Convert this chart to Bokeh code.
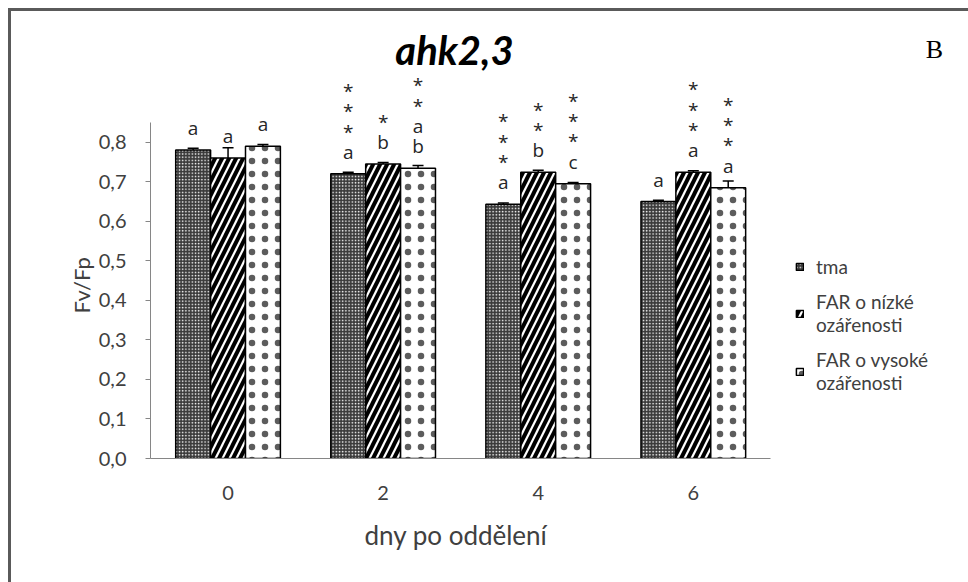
from bokeh.plotting import figure
from bokeh.models import (Range1d, ColumnDataSource, Whisker, TeeHead, Title,
                          Legend, LegendItem, Label, FixedTicker, CustomJSTickFormatter)
from bokeh.core.properties import value
from bokeh.embed import file_html
from bokeh.resources import INLINE

# ---------------- data ----------------
days = ["0", "2", "4", "6"]
tma = [0.780, 0.720, 0.643, 0.650]
tma_err = [0.005, 0.004, 0.003, 0.003]
far_low = [0.760, 0.745, 0.724, 0.724]
far_low_err = [0.026, 0.004, 0.005, 0.004]
far_high = [0.790, 0.734, 0.695, 0.685]
far_high_err = [0.004, 0.007, 0.003, 0.017]
tma_labels = ["a", "*\n*\n*\na", "*\n*\n*\na", "a"]
far_low_labels = ["a", "*\nb", "*\n*\nb", "*\n*\n*\na"]
far_high_labels = ["a", "*\n*\na\nb", "*\n*\n*\nc", "*\n*\n*\na"]
series_names = ["tma", "FAR o nízké\nozářenosti", "FAR o vysoké\nozářenosti"]
y_ticks = [0.0, 0.1, 0.2, 0.3, 0.4, 0.5, 0.6, 0.7, 0.8]
title_text = "ahk2,3"
panel_letter = "B"
x_label = "dny po oddělení"
y_label = "Fv/Fp"

# category positions on a numeric scale (one unit per category)
x_pos = [i + 0.5 for i in range(len(days))]
bw = 0.225

def shift(off):
    return [x + off for x in x_pos]

def add(a, b):
    return [u + v for u, v in zip(a, b)]

FONT = "Lato"
W, H = 962, 575
p = figure(width=W, height=H, x_range=Range1d(0, 5.197), y_range=Range1d(0, 1.1028),
           output_backend="svg", toolbar_location=None,
           min_border_left=139, min_border_right=20, min_border_top=11, min_border_bottom=131)
p.styles = {"margin-left": "8px", "margin-top": "8px", "box-sizing": "content-box",
            "overflow": "hidden",
            "border-left": "3px solid #5a5a5a", "border-top": "3px solid #5a5a5a"}
p.outline_line_color = None
p.grid.visible = False
p.background_fill_color = "white"
p.border_fill_color = "white"

specs = [
    (tma, tma_err, tma_labels, -bw,
     dict(fill_color="#3a3a3a", hatch_pattern="dot", hatch_scale=3.2, hatch_weight=0.9, hatch_color="white")),
    (far_low, far_low_err, far_low_labels, 0.0,
     dict(fill_color="white", hatch_pattern="right_diagonal_line", hatch_scale=14, hatch_weight=4, hatch_color="black")),
    (far_high, far_high_err, far_high_labels, bw,
     dict(fill_color="white", hatch_pattern="dot", hatch_scale=13, hatch_weight=0.1,
          hatch_color="#333333", hatch_alpha=0.8)),
]
items = []
for (vals, errs, labs, off, style), name in zip(specs, series_names):
    src = ColumnDataSource(dict(x=shift(off), top=vals, hi=add(vals, errs), lab=labs))
    r = p.vbar(x="x", top="top", width=bw, source=src,
               line_color="black", line_width=1.5, **style)
    items.append(LegendItem(label=name, renderers=[r]))
    p.add_layout(Whisker(source=src, base="x", upper="hi", lower="top",
                         line_color="black", line_width=1.5,
                         upper_head=TeeHead(size=11, line_color="black", line_width=1.5),
                         lower_head=None))
    p.text(x="x", y="top", text="lab", source=src,
           text_font=value("Open Sans"), text_font_size="19px", text_color="#262626",
           text_align="center", text_baseline="bottom", text_line_height=0.78, y_offset=-9)

# axes
p.yaxis.ticker = FixedTicker(ticks=y_ticks)
p.yaxis.formatter = CustomJSTickFormatter(code="return tick.toFixed(1).replace('.', ',');")
p.yaxis.bounds = (0, 0.85)
p.yaxis.axis_line_color = "#868686"
p.yaxis.major_tick_line_color = "#868686"
p.yaxis.major_tick_out = 5
p.yaxis.major_tick_in = 0
p.yaxis.minor_tick_line_color = None
p.yaxis.major_label_standoff = 19
p.yaxis.major_label_text_font = FONT
p.yaxis.major_label_text_font_size = "20px"
p.yaxis.major_label_text_color = "#404040"

p.xaxis.ticker = FixedTicker(ticks=x_pos)
p.xaxis.major_label_overrides = {x: d for x, d in zip(x_pos, days)}
p.xaxis.bounds = (0, len(days))
p.xaxis.axis_line_color = "#868686"
p.xaxis.major_tick_line_color = None
p.xaxis.minor_tick_line_color = None
p.xaxis.major_tick_out = 0
p.xaxis.major_tick_in = 0
p.xaxis.major_label_standoff = 27
p.xaxis.major_label_text_font = FONT
p.xaxis.major_label_text_font_size = "20px"
p.xaxis.major_label_text_color = "#404040"

# axis titles, centred on the drawn axis extent (not the whole frame)
p.add_layout(Title(text=x_label, align="left", offset=214, standoff=28,
                   text_font=FONT, text_font_style="normal", text_font_size="26px",
                   text_color="#404040"), "below")
p.add_layout(Title(text=y_label, align="left", offset=145, standoff=1,
                   text_font=FONT, text_font_style="normal", text_font_size="22px",
                   text_color="#404040"), "left")

legend = Legend(items=items, location=(645, 64), padding=0, spacing=12,
                glyph_width=9, glyph_height=9, label_standoff=12,
                label_text_font=FONT, label_text_font_size="19px", label_text_color="#404040",
                border_line_color=None, background_fill_alpha=0)
p.add_layout(legend, "center")

p.add_layout(Label(x=304, y=409, x_units="screen", y_units="screen", text=title_text,
                   text_font=FONT, text_font_style="bold italic", text_font_size="40px",
                   text_align="center", text_baseline="middle", text_color="black"))
p.add_layout(Label(x=784, y=409, x_units="screen", y_units="screen", text=panel_letter,
                   text_font="Liberation Serif", text_font_size="26px", text_align="center",
                   text_baseline="middle", text_color="black"))

open("out.html", "w").write(file_html(p, INLINE))
